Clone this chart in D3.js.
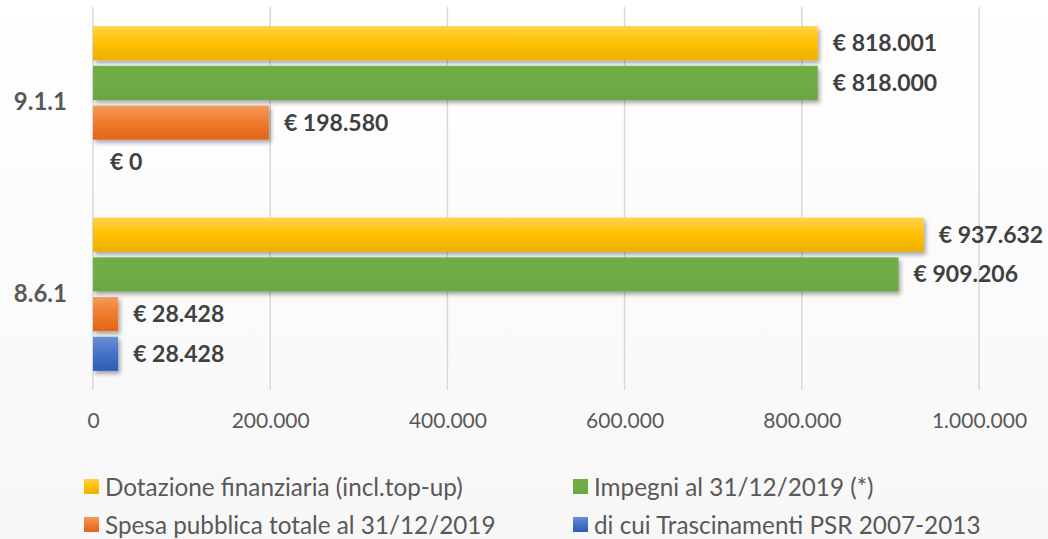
<!DOCTYPE html>
<html>
<head>
<meta charset="utf-8">
<script src="https://cdn.jsdelivr.net/npm/d3@7"></script>
<style>
  html, body { margin: 0; padding: 0; background: #fff; }
  svg { display: block; font-family: Lato, "Open Sans", sans-serif; }
</style>
</head>
<body>
<div id="chart"></div>
<script>
const categories = ["9.1.1", "8.6.1"];
const seriesNames = [
  "Dotazione finanziaria (incl.top-up)",
  "Impegni al 31/12/2019 (*)",
  "Spesa pubblica totale al 31/12/2019",
  "di cui Trascinamenti PSR 2007-2013"
];
const dotazione = [818001, 937632];
const impegni = [818000, 909206];
const spesa = [198580, 28428];
const trascinamenti = [0, 28428];
const xTicks = [0, 200000, 400000, 600000, 800000, 1000000];

const seriesValues = [dotazione, impegni, spesa, trascinamenti];
const seriesKeys = ["dot", "imp", "spe", "tra"];
// colori: [alto, medio, basso] per il gradiente
const seriesColors = {
  dot: ["#FFD24D", "#FFC000", "#EBB100"],
  imp: ["#70AD47", "#70AD47", "#6AA643"],
  spe: ["#F39A5E", "#F07A2C", "#E0661A"],
  tra: ["#6A8FD6", "#4472C4", "#2F5DB8"]
};

const width = 1048, height = 539;
const x0 = 93, x1 = 979, plotTop = 7, plotBottom = 390;

const it = d3.formatLocale({ decimal: ",", thousands: ".", grouping: [3], currency: ["€ ", ""] });
const fmt = it.format(",.0f");

const svg = d3.select("#chart").append("svg")
  .attr("width", width)
  .attr("height", height);

const defs = svg.append("defs");

const bg = defs.append("linearGradient").attr("id", "bg")
  .attr("x1", 0).attr("y1", 0).attr("x2", 0).attr("y2", 1);
bg.append("stop").attr("offset", "0%").attr("stop-color", "#FFFFFF");
bg.append("stop").attr("offset", "100%").attr("stop-color", "#F7F7F7");

seriesKeys.forEach(k => {
  const gr = defs.append("linearGradient").attr("id", "g-" + k)
    .attr("x1", 0).attr("y1", 0).attr("x2", 0).attr("y2", 1);
  gr.append("stop").attr("offset", "0%").attr("stop-color", seriesColors[k][0]);
  gr.append("stop").attr("offset", "50%").attr("stop-color", seriesColors[k][1]);
  gr.append("stop").attr("offset", "100%").attr("stop-color", seriesColors[k][2]);
});

const shadow = defs.append("filter").attr("id", "shadow")
  .attr("x", "-10%").attr("y", "-30%").attr("width", "130%").attr("height", "180%");
shadow.append("feDropShadow")
  .attr("dx", 2).attr("dy", 3).attr("stdDeviation", 2)
  .attr("flood-color", "#000").attr("flood-opacity", 0.35);

svg.append("rect").attr("width", width).attr("height", height).attr("fill", "url(#bg)");

const x = d3.scaleLinear().domain([0, 1000000]).range([x0, x1]);

const y = d3.scaleBand()
  .domain(categories)
  .range([plotTop, plotBottom])
  .paddingInner(0.2)
  .paddingOuter(0.1);

const ySub = d3.scaleBand()
  .domain(seriesKeys)
  .range([0, y.bandwidth()])
  .paddingInner(0.14);

// griglia
svg.append("g")
  .selectAll("line")
  .data(xTicks)
  .join("line")
  .attr("x1", d => x(d)).attr("x2", d => x(d))
  .attr("y1", plotTop).attr("y2", plotBottom)
  .attr("stroke", "#D9D9D9")
  .attr("stroke-width", 1.5);

// asse x
const xAxis = svg.append("g")
  .attr("transform", `translate(0,${plotBottom})`)
  .call(d3.axisBottom(x).tickValues(xTicks).tickFormat(fmt).tickSize(0).tickPadding(23));
xAxis.select(".domain").remove();
xAxis.selectAll("text")
  .attr("fill", "#595959")
  .style("font-size", "21px")
  .style("font-family", "Lato, sans-serif");

// asse y (categorie)
const yAxis = svg.append("g")
  .attr("transform", `translate(${x0},0)`)
  .call(d3.axisLeft(y).tickSize(0).tickPadding(26));
yAxis.select(".domain").remove();
yAxis.selectAll("text")
  .attr("fill", "#595959")
  .style("font-size", "24px")
  .style("font-weight", "bold")
  .style("font-family", "Lato, sans-serif");

// barre
const rows = [];
categories.forEach((c, i) => {
  seriesKeys.forEach((k, j) => {
    rows.push({ cat: c, key: k, value: seriesValues[j][i] });
  });
});

const barG = svg.append("g");
barG.selectAll("rect")
  .data(rows.filter(d => d.value > 0))
  .join("rect")
  .attr("x", x(0))
  .attr("y", d => y(d.cat) + ySub(d.key))
  .attr("width", d => x(d.value) - x(0))
  .attr("height", ySub.bandwidth())
  .attr("fill", d => "url(#g-" + d.key + ")")
  .attr("filter", "url(#shadow)");

// etichette
svg.append("g")
  .selectAll("text")
  .data(rows)
  .join("text")
  .attr("x", d => x(d.value) + (d.value > 0 ? 15 : 17))
  .attr("y", d => y(d.cat) + ySub(d.key) + ySub.bandwidth() / 2)
  .attr("dy", "0.35em")
  .attr("fill", "#404040")
  .style("font-size", "23px")
  .style("font-weight", "bold")
  .text(d => "€ " + fmt(d.value));

// legenda
const legendPos = [
  { x: 84, y: 479 },
  { x: 573, y: 479 },
  { x: 84, y: 517 },
  { x: 573, y: 517 }
];
const legend = svg.append("g")
  .selectAll("g")
  .data(seriesKeys)
  .join("g")
  .attr("transform", (d, i) => `translate(${legendPos[i].x},${legendPos[i].y})`);
legend.append("rect")
  .attr("width", 15).attr("height", 15)
  .attr("fill", d => "url(#g-" + d + ")");
legend.append("text")
  .attr("x", 21).attr("y", 8)
  .attr("dy", "0.35em")
  .attr("fill", "#595959")
  .style("font-size", "24.3px")
  .text((d, i) => seriesNames[i]);
</script>
</body>
</html>
